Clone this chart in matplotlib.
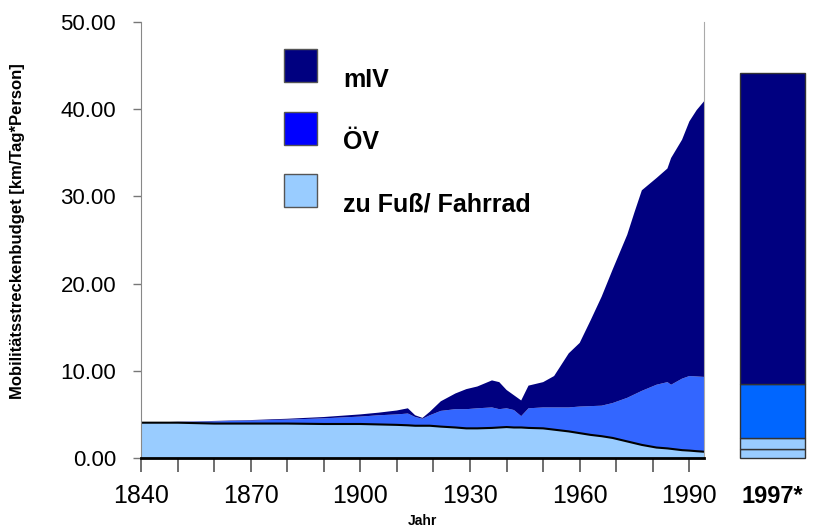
import matplotlib
matplotlib.use("Agg")
import matplotlib.pyplot as plt
from matplotlib.patches import Rectangle

plt.rcParams['font.family'] = ['Liberation Sans', 'DejaVu Sans']

# Mobilitätsstreckenbudget je Verkehrsart [km/Tag*Person]
jahre = [1840, 1850, 1860, 1870, 1880, 1890, 1900, 1905, 1910, 1913,
         1915, 1917, 1919, 1922, 1926, 1929, 1932, 1936, 1938, 1940,
         1942, 1944, 1946, 1950, 1953, 1957, 1960, 1963, 1966, 1969,
         1973, 1975, 1977, 1981, 1984, 1985, 1988, 1990, 1992, 1994]
fuss_rad = [4.05, 4.05, 3.95, 3.95, 3.95, 3.90, 3.90, 3.85, 3.80, 3.75,
            3.70, 3.70, 3.70, 3.60, 3.50, 3.40, 3.40, 3.45, 3.50, 3.55,
            3.50, 3.50, 3.45, 3.40, 3.25, 3.05, 2.85, 2.65, 2.50, 2.30,
            1.90, 1.70, 1.50, 1.20, 1.10, 1.05, 0.90, 0.85, 0.78, 0.72]
oev = [0.00, 0.07, 0.25, 0.35, 0.45, 0.65, 0.85, 1.05, 1.20, 1.35,
       1.00, 0.80, 1.20, 1.80, 2.10, 2.20, 2.30, 2.35, 2.10, 2.15,
       2.00, 1.30, 2.25, 2.40, 2.55, 2.75, 3.05, 3.30, 3.50, 4.00,
       5.00, 5.60, 6.20, 7.20, 7.60, 7.35, 8.20, 8.55, 8.57, 8.58]
miv = [0.00, 0.03, 0.05, 0.05, 0.10, 0.15, 0.25, 0.30, 0.45, 0.60,
       0.20, 0.10, 0.40, 1.10, 1.80, 2.30, 2.50, 3.10, 3.10, 2.10,
       1.70, 1.80, 2.60, 2.90, 3.60, 6.20, 7.30, 9.85, 12.50, 15.30,
       18.70, 20.90, 23.00, 23.70, 24.50, 26.00, 27.40, 29.20, 30.55, 31.60]

# Säule 1997: zu Fuß, Fahrrad, ÖV, mIV
saeule_1997 = [1.00, 1.33, 6.19, 35.58]
saeule_farben = ['#99CCFF', '#99CCFF', '#0066FF', '#000080']

legende_namen = ['mIV', 'ÖV', 'zu Fuß/ Fahrrad']
legende_farben = ['#000080', '#0000FF', '#99CCFF']

x_ticks = [1840, 1870, 1900, 1930, 1960, 1990]
y_ticks = [0, 10, 20, 30, 40, 50]

fig = plt.figure(figsize=(8.16, 5.28), dpi=100)
ax = fig.add_axes([141/816, 70/528, 563/816, 436/528])
bx = fig.add_axes([740/816, 70/528, 65/816, 436/528])

ax.stackplot(jahre, fuss_rad, oev, miv,
             colors=['#99CCFF', '#3366FF', '#000080'], linewidth=0)
ax.plot(jahre, fuss_rad, color='black', lw=1.5)

ax.set_xlim(1840, 1994)
ax.set_ylim(0, 50)
ax.set_xticks(x_ticks)
ax.set_xticks(range(1840, 1995, 10), minor=True)
ax.set_yticks(y_ticks)
ax.set_yticklabels(['%.2f' % v for v in y_ticks])

ax.spines['top'].set_visible(False)
ax.spines['left'].set_color('#888888')
ax.spines['right'].set_color('#aaaaaa')
ax.spines['bottom'].set_color('black')
ax.spines['bottom'].set_linewidth(2)
ax.tick_params(axis='x', which='both', length=10, width=1.2, color='#555555',
               labelsize=18, pad=9)
ax.tick_params(axis='y', length=6, width=1, color='#777777', labelsize=16, pad=12)

ax.set_ylabel('Mobilitätsstreckenbudget [km/Tag*Person]', fontsize=12,
              fontweight='bold')
ax.yaxis.set_label_coords(-0.206, 0.52)
ax.set_xlabel('Jahr', fontsize=10, fontweight='bold')
ax.xaxis.set_label_coords(0.5, -0.128)

# Legende von Hand: Kästchen und Text (Text sitzt etwas tiefer)
for i, (name, farbe) in enumerate(zip(legende_namen, legende_farben)):
    oben = 0.938 - i * 0.1433
    ax.add_patch(Rectangle((0.254, oben - 0.0757), 0.0586, 0.0757,
                           transform=ax.transAxes, facecolor=farbe,
                           edgecolor='#555555', linewidth=1))
    ax.text(0.359, oben - 0.087, name, transform=ax.transAxes,
            ha='left', va='baseline', fontsize=18, fontweight='bold')

# Vergleichssäule 1997
unten = 0
for h, c in zip(saeule_1997, saeule_farben):
    bx.bar(0, h, bottom=unten, width=1.0, color=c, edgecolor='#333333',
           linewidth=1, clip_on=False)
    unten += h
bx.set_xlim(-0.5, 0.5)
bx.set_ylim(0, 50)
bx.axis('off')
bx.text(0.5, -0.089, '1997*', transform=bx.transAxes, ha='center', va='center',
        fontsize=17, fontweight='bold')

fig.savefig('out.png', dpi=100)
